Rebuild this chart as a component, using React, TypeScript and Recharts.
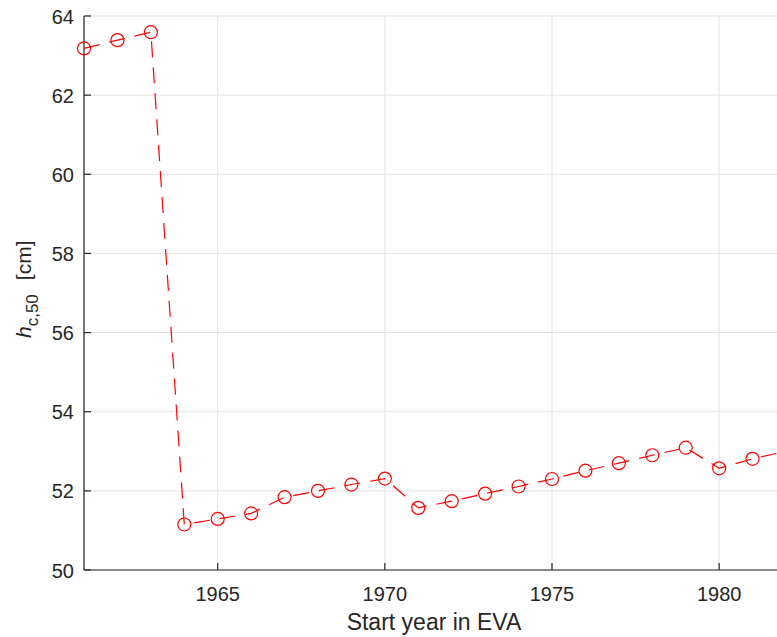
import { LineChart, Line, XAxis, YAxis, CartesianGrid, Label } from 'recharts';

const years = [
  1961, 1962, 1963, 1964, 1965, 1966, 1967, 1968, 1969, 1970, 1971,
  1972, 1973, 1974, 1975, 1976, 1977, 1978, 1979, 1980, 1981, 1982,
];
const hc50 = [
  63.18, 63.39, 63.59, 51.15, 51.29, 51.43, 51.84, 52.0, 52.16, 52.31, 51.57,
  51.74, 51.93, 52.11, 52.3, 52.51, 52.7, 52.9, 53.09, 52.57, 52.81, 53.0,
];
const xTicks = [1965, 1970, 1975, 1980];
const yTicks = [50, 52, 54, 56, 58, 60, 62, 64];

const data = years.map((year, i) => ({ year, h: hc50[i] }));

const AXIS = '#262626';
const FONT = '"Liberation Sans", Arial, Helvetica, sans-serif';

// ticks point inward, MATLAB style
const BottomTick = ({ x, y, payload }: any) => (
  <g>
    <line x1={x} x2={x} y1={y} y2={y - 7} stroke={AXIS} strokeWidth={1.2} />
    <text x={x} y={y + 31} textAnchor="middle" fill={AXIS} fontSize={20} fontFamily={FONT}>
      {payload.value}
    </text>
  </g>
);

const TopTick = ({ x, y }: any) => (
  <line x1={x} x2={x} y1={y} y2={y + 7} stroke={AXIS} strokeWidth={1.2} />
);

const LeftTick = ({ x, y, payload }: any) => (
  <g>
    <line x1={x + 10} x2={x + 17} y1={y} y2={y} stroke={AXIS} strokeWidth={1.2} />
    <text x={x} y={y + 7.5} textAnchor="end" fill={AXIS} fontSize={20} fontFamily={FONT}>
      {payload.value}
    </text>
  </g>
);

const Ring = ({ cx, cy, index }: any) => (
  <circle key={index} cx={cx} cy={cy} r={6.5} fill="none" stroke="#ff0000" strokeWidth={1.2} />
);

const YTitle = () => (
  <text
    x={31}
    y={338}
    transform="rotate(-90, 31, 338)"
    fill={AXIS}
    fontFamily={FONT}
    fontSize={21}
  >
    <tspan fontStyle="italic">h</tspan>
    <tspan fontSize={17} dy={7}>c,50</tspan>
    <tspan dy={-7} dx={14}>[cm]</tspan>
  </text>
);

const XTitle = () => (
  <text x={434} y={630} textAnchor="middle" fill={AXIS} fontFamily={FONT} fontSize={23}>
    Start year in EVA
  </text>
);

export default function App() {
  return (
    <div style={{ position: 'absolute', left: 0, top: 0, width: 777, height: 637, overflow: 'hidden', background: '#fff' }}>
      <LineChart width={786} height={637} data={data} margin={{ top: 16, right: 0, bottom: 0, left: 0 }}>
        <CartesianGrid stroke="#e3e3e3" strokeWidth={1} />
        <XAxis
          dataKey="year"
          type="number"
          domain={[1961, 1982]}
          ticks={xTicks}
          height={67}
          stroke={AXIS}
          strokeWidth={1.2}
          tickLine={false}
          tickSize={0}
          tickMargin={0}
          tick={<BottomTick />}
        >
          <Label content={<XTitle />} />
        </XAxis>
        <XAxis
          xAxisId="top"
          orientation="top"
          dataKey="year"
          type="number"
          domain={[1961, 1982]}
          ticks={xTicks}
          height={0}
          stroke={AXIS}
          strokeWidth={1.2}
          tickLine={false}
          tickSize={0}
          tickMargin={0}
          tick={<TopTick />}
        />
        <YAxis
          type="number"
          domain={[50, 64]}
          ticks={yTicks}
          width={84}
          stroke={AXIS}
          strokeWidth={1.2}
          tickLine={false}
          tickSize={0}
          tickMargin={10}
          tick={<LeftTick />}
          interval={0}
        >
          <Label content={<YTitle />} />
        </YAxis>
        <Line
          type="linear"
          dataKey="h"
          stroke="#ff0000"
          strokeWidth={1.2}
          strokeDasharray="16 10"
          dot={<Ring />}
          activeDot={false}
          isAnimationActive={false}
        />
      </LineChart>
    </div>
  );
}
